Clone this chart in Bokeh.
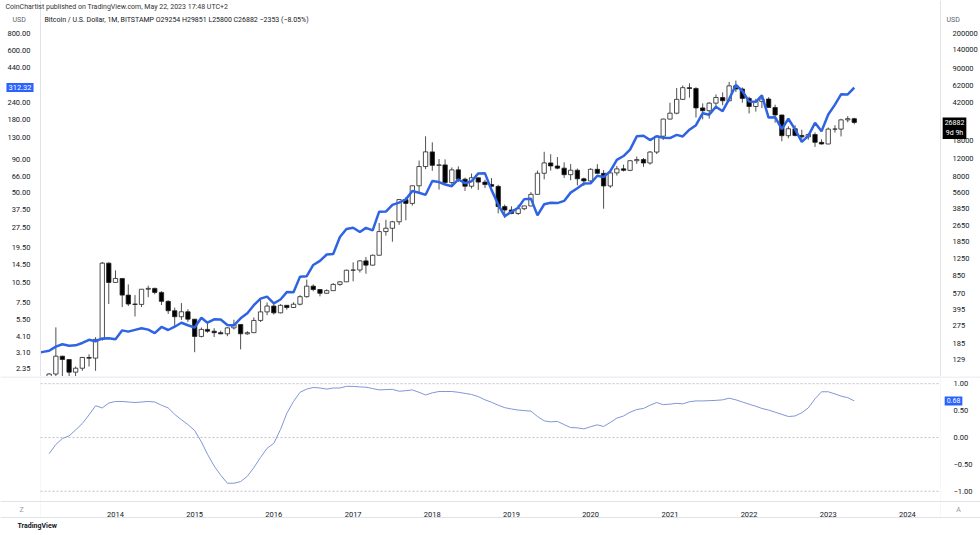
import math
import pandas as pd
from bokeh.plotting import figure
from bokeh.layouts import column
from bokeh.models import (Range1d, LogScale, LogAxis, FixedTicker, NumeralTickFormatter,
                          CustomJSTickFormatter, Label, Span, BoxAnnotation, ColumnDataSource)
from bokeh.embed import file_html
from bokeh.resources import INLINE

# ---------------- data ----------------
months = list(pd.date_range("2013-01-01", "2023-05-01", freq="MS"))  # monthly bars

btc_open = [
    13.3, 20.4, 33.4, 93.0, 139.0, 129.0, 97.0, 106.0, 135.0, 133.0, 203.0, 1130.0,
    732, 800, 550, 450, 446, 628, 640, 585, 478, 387, 338, 378,
    320, 217, 254, 244, 236, 230, 263, 284, 230, 236, 311, 377,
    430, 369, 437, 416, 448, 531, 673, 624, 573, 608, 700, 742,
    963, 969, 1189, 1080, 1350, 2300, 2480, 2870, 4730, 4340, 6450, 9950,
    13850, 10220, 10330, 6930, 9240, 7490, 6390, 7730, 7010, 6630, 6370, 4040,
    3740, 3460, 3850, 4100, 5320, 8560, 10800, 10080, 9600, 8290, 9160, 7550,
    7200, 9350, 8540, 6430, 8630, 9450, 9140, 11350, 11650, 10780, 13790, 19710,
    28990, 33100, 45200, 58800, 57700, 37300, 35000, 41500, 47100, 43800, 61300, 57000,
    46200, 38470, 43190, 45540, 37650, 31800, 19950, 23300, 20050, 19430, 20490, 17170,
    16540, 23130, 23140, 28480, 29254]
btc_high = [
    20.4, 33.6, 95.0, 266.0, 140.0, 129.0, 110.0, 137.0, 145.0, 213.0, 1163.0, 1150.0,
    960, 790, 700, 550, 630, 680, 650, 600, 490, 415, 460, 400,
    320, 265, 300, 261, 247, 268, 316, 285, 244, 333, 500, 465,
    460, 448, 440, 468, 550, 780, 700, 630, 627, 720, 755, 975,
    1150, 1200, 1300, 1370, 2790, 3000, 2930, 4760, 4980, 6470, 11400, 19666,
    17180, 11790, 11700, 9760, 10000, 7760, 8500, 7750, 7410, 7680, 6600, 4230,
    4070, 4200, 4100, 5600, 9090, 13880, 13130, 12330, 10950, 10520, 9520, 7750,
    9580, 10500, 9190, 9460, 10070, 10390, 11430, 12470, 12060, 14100, 19860, 29300,
    41950, 58350, 61780, 64900, 59500, 41300, 42400, 50500, 52900, 67000, 69000, 59100,
    47950, 45800, 48200, 47400, 40050, 31900, 24650, 25200, 22800, 21000, 21480, 18380,
    23950, 25250, 29200, 31000, 29851]
btc_low = [
    12.9, 19.0, 33.0, 50.0, 79.0, 88.0, 65.0, 100.0, 110.0, 100.0, 197.0, 450.0,
    730, 420, 430, 340, 420, 525, 560, 440, 360, 275, 315, 300,
    152, 212, 236, 214, 228, 218, 253, 162, 225, 235, 300, 350,
    355, 365, 396, 412, 436, 520, 600, 535, 570, 606, 680, 740,
    750, 915, 890, 1070, 1350, 2100, 1830, 2680, 2970, 4130, 5510, 9400,
    9040, 5920, 6600, 6430, 7030, 5750, 6070, 5880, 6120, 6200, 3470, 3120,
    3400, 3350, 3730, 4060, 5320, 7460, 9080, 9340, 7710, 7300, 6520, 6430,
    6860, 8450, 3850, 6150, 8120, 8910, 8970, 10570, 9880, 10380, 13200, 18100,
    28800, 32300, 44900, 47000, 30000, 28800, 29300, 37400, 39600, 43300, 53300, 42000,
    32900, 34300, 37200, 37600, 26700, 17600, 18800, 19600, 18150, 18200, 15480, 16330,
    16500, 21400, 19600, 26950, 25800]
btc_close = [
    20.4, 33.4, 93.0, 139.0, 129.0, 97.0, 106.0, 135.0, 133.0, 203.0, 1130.0, 732.0,
    800, 550, 450, 446, 628, 640, 585, 478, 387, 338, 378, 320,
    217, 254, 244, 236, 230, 263, 284, 230, 236, 311, 377, 430,
    369, 437, 416, 448, 531, 673, 624, 573, 608, 700, 742, 963,
    969, 1189, 1080, 1350, 2300, 2480, 2870, 4730, 4340, 6450, 9950, 13850,
    10220, 10330, 6930, 9240, 7490, 6390, 7730, 7010, 6630, 6370, 4040, 3740,
    3460, 3850, 4100, 5320, 8560, 10800, 10080, 9600, 8290, 9160, 7550, 7200,
    9350, 8540, 6430, 8630, 9450, 9140, 11350, 11650, 10780, 13790, 19710, 28990,
    33100, 45200, 58800, 57700, 37300, 35000, 41500, 47100, 43800, 61300, 57000, 46200,
    38470, 43190, 45540, 37650, 31800, 19950, 23300, 20050, 19430, 20490, 17170, 16540,
    23130, 23140, 28480, 29254, 26882]

# overlay symbol (left scale), monthly close
overlay_close = [
    3.07, 3.15, 3.21, 3.45, 3.60, 3.51, 3.53, 3.68, 3.89, 3.79, 3.98, 4.00,
    3.92, 4.58, 4.48, 4.62, 4.75, 4.64, 4.37, 4.86, 4.61, 4.88, 5.23, 5.01,
    4.81, 5.71, 5.23, 5.55, 5.53, 5.03, 4.99, 5.65, 6.16, 7.10, 7.95, 8.24,
    7.33, 7.84, 8.91, 8.88, 11.66, 11.75, 14.28, 15.34, 17.13, 17.26, 23.22, 26.69,
    27.30, 25.32, 27.23, 26.07, 36.08, 36.14, 40.63, 42.27, 44.69, 51.70, 50.18, 48.38,
    61.45, 60.38, 57.90, 56.23, 63.16, 59.23, 61.22, 70.17, 70.26, 52.71, 40.86, 33.38,
    35.94, 38.64, 44.89, 45.25, 33.86, 41.06, 42.18, 41.89, 43.52, 50.26, 54.19, 58.83,
    59.11, 67.39, 65.90, 73.07, 88.76, 94.98, 106.16, 133.75, 135.31, 125.34, 134.02, 130.55,
    129.90, 137.15, 133.48, 150.10, 162.45, 200.02, 194.96, 223.85, 207.16, 255.67, 326.76, 294.11,
    244.86, 243.85, 272.86, 185.47, 186.72, 151.59, 181.63, 150.94, 121.39, 134.97, 169.23, 146.14,
    195.37, 232.16, 277.77, 277.49, 312.32]

corr_months = months[2:]
corr_values = [
    -0.30, -0.13, -0.02, 0.03, 0.14, 0.26, 0.42, 0.59, 0.55, 0.64,
    0.67, 0.67, 0.66, 0.65, 0.66, 0.67, 0.66, 0.60, 0.55, 0.43, 0.33, 0.24,
    0.13, -0.08, -0.31, -0.53, -0.70, -0.85, -0.85, -0.82, -0.72, -0.56, -0.37, -0.20,
    -0.11, 0.15, 0.45, 0.67, 0.84, 0.90, 0.93, 0.92, 0.90, 0.92, 0.92, 0.95,
    0.95, 0.94, 0.935, 0.91, 0.885, 0.89, 0.895, 0.86, 0.87, 0.885, 0.84, 0.79,
    0.83, 0.855, 0.855, 0.855, 0.84, 0.82, 0.80, 0.76, 0.70, 0.655, 0.60, 0.555,
    0.53, 0.51, 0.50, 0.49, 0.39, 0.31, 0.29, 0.30, 0.24, 0.185, 0.18, 0.16,
    0.20, 0.235, 0.205, 0.28, 0.36, 0.40, 0.47, 0.52, 0.54, 0.60, 0.65, 0.61,
    0.62, 0.635, 0.625, 0.665, 0.68, 0.68, 0.685, 0.69, 0.70, 0.73, 0.70, 0.66,
    0.62, 0.58, 0.54, 0.51, 0.47, 0.43, 0.39, 0.40, 0.46, 0.55, 0.72, 0.85,
    0.85, 0.81, 0.77, 0.74, 0.68]

left_ticks = [2.35, 3.10, 4.10, 5.50, 7.50, 10.50, 14.50, 19.50, 27.50, 37.50, 50.0,
              66.0, 90.0, 130.0, 180.0, 240.0, 440.0, 600.0, 800.0]
right_ticks = [129, 185, 275, 395, 570, 850, 1250, 1850, 2650, 3850, 5600, 8000,
               12000, 18000, 42000, 62000, 90000, 140000, 200000]
corr_ticks = [-1.0, -0.5, 0.0, 0.5, 1.0]
corr_guides = [-1.0, 0.0, 1.0]
year_labels = list(range(2014, 2025))

title_text = "CoinChartist published on TradingView.com, May 22, 2023 17:48 UTC+2"
legend_text = "Bitcoin / U.S. Dollar, 1M, BITSTAMP  O29254  H29851  L25800  C26882  \u22122353 (\u22128.05%)"
countdown = "9d 9h"

# ---------------- styling / geometry (picture pixels) ----------------
FONT = "Roboto"
TXT = "#131722"
GRAYTXT = "#5d606b"
BORDER = "#e0e3eb"
BLUE = "#2e64e4"
TAGBLUE = "#2962ff"
CORR = "#8096d8"

W = 980
Y_SPLIT = 376        # boundary between panes
H_TOP = Y_SPLIT
H_BOT = 158
Y_END = Y_SPLIT + H_BOT
T0 = pd.Timestamp("2014-01-01")


def t_at(px):
    return T0 + pd.Timedelta(days=(px - 115) / 79.2 * 365.25)


def ms(ts):
    return ts.value / 1e6


def left_at(py):
    return 800 * math.exp((33 - py) / 57.5)


def btc_at(py):
    return 129 * math.exp((359 - py) / 44.4)


def corr_at(py):
    return (437 - py) / 53.8


T_LEFT = ms(t_at(40))
T_RIGHT = ms(t_at(940))
pad = {"padding": 2} if "padding" in Label.properties() else {}

xr = Range1d(t_at(0), t_at(W))


def style_axis(ax, size="7.5px"):
    ax.major_tick_line_color = None
    ax.minor_tick_line_color = None
    ax.axis_line_color = None
    ax.major_label_text_font = FONT
    ax.major_label_text_font_size = size
    ax.major_label_text_color = TXT


# ---------------- top pane ----------------
top = figure(width=W, height=H_TOP, x_axis_type="datetime", y_axis_type="log",
             x_range=xr, y_range=Range1d(left_at(Y_SPLIT), left_at(0)), x_axis_location=None,
             output_backend="svg", toolbar_location=None,
             min_border_left=0, min_border_right=0, min_border_top=0, min_border_bottom=0)
top.extra_y_ranges = {"btc": Range1d(btc_at(Y_SPLIT), btc_at(0))}
top.extra_y_scales = {"btc": LogScale()}
top.grid.visible = False
top.outline_line_color = None
top.background_fill_color = "white"
top.border_fill_color = "white"

la = top.yaxis[0]
la.ticker = FixedTicker(ticks=left_ticks)
la.formatter = NumeralTickFormatter(format="0.00")
la.fixed_location = T_LEFT
ra = LogAxis(y_range_name="btc", ticker=FixedTicker(ticks=right_ticks),
             formatter=NumeralTickFormatter(format="0"), fixed_location=T_RIGHT)
top.add_layout(ra, "right")
style_axis(la)
style_axis(ra)
la.major_label_standoff = 4
ra.major_label_standoff = 6

up = [c >= o for o, c in zip(btc_open, btc_close)]
src = ColumnDataSource(dict(
    t=months, h=btc_high, l=btc_low,
    top=[max(o, c) for o, c in zip(btc_open, btc_close)],
    bottom=[min(o, c) for o, c in zip(btc_open, btc_close)],
    fill=["white" if u else "black" for u in up]))
top.segment(x0="t", y0="h", x1="t", y1="l", source=src, y_range_name="btc",
            line_color="#505050", line_width=1)
top.vbar(x="t", width=20 * 86400000, top="top", bottom="bottom", source=src,
         y_range_name="btc", fill_color="fill", line_color="#222222", line_width=0.8)
top.line(months, overlay_close, line_width=2.5, color=BLUE)

# mask the price-scale strips so series stop at the pane edge
for l_, r_ in ((None, T_LEFT), (T_RIGHT, None)):
    top.add_layout(BoxAnnotation(left=l_, right=r_, fill_color="white", fill_alpha=1,
                                 line_color=None, level="glyph"))
for tx in (T_LEFT, T_RIGHT):
    top.add_layout(Span(location=tx, dimension="height", line_color=BORDER, line_width=1))


def top_label(px, py, text, **kw):
    base = dict(x=px, y=Y_SPLIT - py, x_units="screen", y_units="screen", text=text,
                text_font=FONT, text_font_size="7px", text_baseline="middle")
    base.update(kw)
    top.add_layout(Label(**base))


top_label(5, 6.5, title_text, text_color="#333333")
top_label(44, 19.5, legend_text, text_color=TXT)
top_label(12, 19.5, "USD", text_color=GRAYTXT)
top_label(946, 19.5, "USD", text_color=GRAYTXT)

# last value tags on the price scales
top.add_layout(Label(x=19.5, y=overlay_close[-1], x_units="screen", y_units="data",
                     text=f"{overlay_close[-1]:.2f}", text_font=FONT, text_font_size="7.5px",
                     text_color="white", text_align="center", text_baseline="middle",
                     background_fill_color=TAGBLUE, **pad))
top.add_layout(Label(x=954, y=btc_close[-1], x_units="screen", y_units="data",
                     y_range_name="btc", y_offset=5,
                     text=f"{btc_close[-1]:d}\n{countdown}", text_font=FONT,
                     text_font_size="7px", text_color="white", text_align="center",
                     text_baseline="top", background_fill_color="black", **pad))

# ---------------- lower pane ----------------
bot = figure(width=W, height=H_BOT, x_axis_type="datetime", x_range=xr,
             y_range=Range1d(corr_at(Y_END), corr_at(Y_SPLIT)), y_axis_location="right",
             output_backend="svg", toolbar_location=None,
             min_border_left=0, min_border_right=0, min_border_top=0, min_border_bottom=0)
bot.grid.visible = False
bot.outline_line_color = None
bot.background_fill_color = "white"
bot.border_fill_color = "white"

bot.segment(x0=[T_LEFT] * 3, x1=[T_RIGHT] * 3, y0=corr_guides, y1=corr_guides,
            line_color="#bfc2ca", line_width=1, line_dash="2 2")
bot.line(corr_months, corr_values, line_width=1, color=CORR)

cy = bot.yaxis[0]
cy.ticker = FixedTicker(ticks=corr_ticks)
cy.formatter = CustomJSTickFormatter(
    code="return (tick < 0 ? '\u2212' : '') + Math.abs(tick).toFixed(2);")
cy.fixed_location = T_RIGHT
bx = bot.xaxis[0]
bx.ticker = FixedTicker(ticks=[pd.Timestamp(f"{y}-01-01").value // 10**6 for y in year_labels])
bx.formatter = CustomJSTickFormatter(code="return String(new Date(tick).getUTCFullYear());")
bx.fixed_location = corr_at(501)
style_axis(cy)
style_axis(bx)
cy.major_label_standoff = 7
bx.major_label_standoff = 4

# pane separators
bot.add_layout(Span(location=corr_at(376.5), dimension="width", line_color=BORDER, line_width=1))
bot.add_layout(Span(location=corr_at(501), dimension="width", line_color=BORDER, line_width=1))
bot.add_layout(Span(location=corr_at(517), dimension="width", line_color=BORDER, line_width=1))
bot.add_layout(BoxAnnotation(left=T_LEFT, right=T_RIGHT, bottom=corr_at(517), top=corr_at(376.5),
                             fill_color=None, line_color=BORDER, line_width=1))


def bot_label(px, py, text, **kw):
    base = dict(x=px, y=Y_END - py, x_units="screen", y_units="screen",
                text=text, text_font=FONT, text_font_size="7px", text_baseline="middle")
    base.update(kw)
    bot.add_layout(Label(**base))


bot.add_layout(Label(x=953, y=corr_values[-1], x_units="screen", y_units="data",
                     text=f"{corr_values[-1]:.2f}", text_font=FONT, text_font_size="7px",
                     text_color="white", text_align="center", text_baseline="middle",
                     background_fill_color=TAGBLUE, **pad))
bot_label(21, 509, "Z", text_color="#9598a1", text_align="center")
bot_label(958, 509, "A", text_color="#9598a1", text_align="center")
bot_label(17, 525, "TradingView", text_color=TXT, text_font_style="bold")

layout = column(top, bot)
open("out.html", "w").write(file_html(layout, INLINE, "BTC monthly"))
